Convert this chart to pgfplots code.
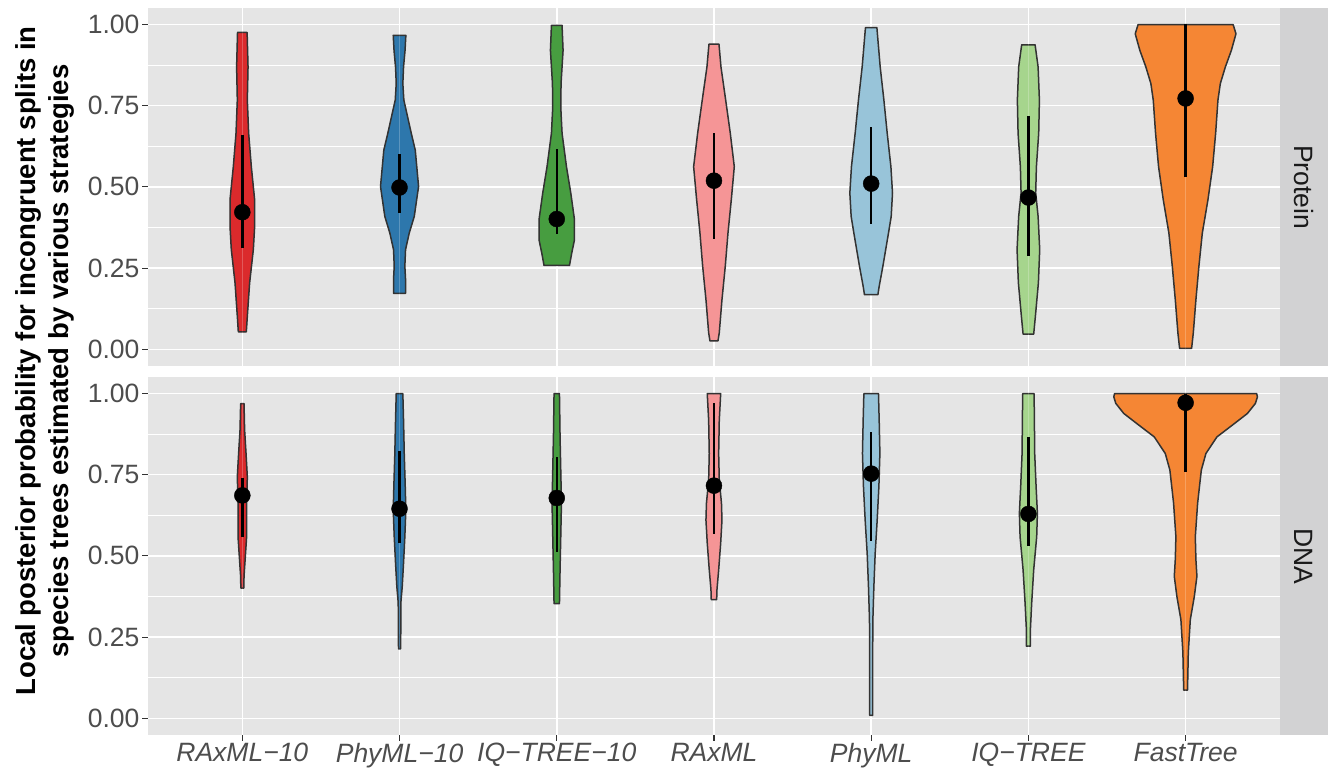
\documentclass[border=0pt]{standalone}
\usepackage{fontspec}
\setmainfont{Liberation Sans}
\usepackage{pgfplots}
\pgfplotsset{compat=1.18}
\usepackage{pgfplotstable}

\definecolor{panelbg}{HTML}{E5E5E5}
\definecolor{stripbg}{HTML}{D2D2D3}
\definecolor{outl}{HTML}{333333}
\definecolor{gray30}{HTML}{4D4D4D}
\definecolor{gray20}{HTML}{333333}
\definecolor{gray10}{HTML}{1A1A1A}
\definecolor{cA}{HTML}{DB2A2C}
\definecolor{cB}{HTML}{2D77AC}
\definecolor{cC}{HTML}{479D40}
\definecolor{cD}{HTML}{F59596}
\definecolor{cE}{HTML}{98C4D9}
\definecolor{cF}{HTML}{A6D58D}
\definecolor{cG}{HTML}{F58634}

% ---- Protein violins: y = value, w = half width (px, 157 px = 1 category) ----
\pgfplotstableread{
y w
0.054 0
0.054 4.0
0.102 5.0
0.205 7.3
0.307 11.0
0.378 12.3
0.460 12.3
0.562 9.0
0.665 6.3
0.767 5.0
0.869 5.7
0.975 4.8
0.975 0
}\pA
\pgfplotstableread{
y w
0.172 0
0.172 6.0
0.215 6.0
0.256 5.3
0.307 6.0
0.358 9.7
0.409 14.7
0.501 19.0
0.613 15.7
0.665 11.7
0.767 4.3
0.818 3.3
0.869 4.0
0.920 5.5
0.966 6.3
0.966 0
}\pB
\pgfplotstableread{
y w
0.258 0
0.258 12.7
0.297 15.0
0.337 17.7
0.399 17.7
0.481 14.0
0.562 9.7
0.665 5.3
0.746 4.0
0.818 4.3
0.920 6.3
0.997 5.3
0.997 0
}\pC
\pgfplotstableread{
y w
0.026 0
0.026 4.0
0.051 5.3
0.153 8.0
0.256 11.3
0.358 14.0
0.460 17.3
0.562 20.3
0.665 16.3
0.767 11.7
0.869 7.0
0.939 5.0
0.939 0
}\pD
\pgfplotstableread{
y w
0.168 0
0.168 6.7
0.194 8.0
0.256 11.7
0.358 17.3
0.409 20.0
0.481 21.3
0.562 19.7
0.665 16.0
0.767 12.7
0.869 9.0
0.990 5.7
0.990 0
}\pE
\pgfplotstableread{
y w
0.047 0
0.047 5.3
0.102 7.0
0.205 10.0
0.307 11.3
0.409 9.7
0.481 7.3
0.562 8.0
0.665 10.3
0.767 11.0
0.869 9.7
0.937 6.7
0.937 0
}\pF
\pgfplotstableread{
y w
0.003 0
0.003 6.0
0.051 7.7
0.153 10.3
0.256 13.3
0.358 16.7
0.460 22.3
0.562 27.0
0.665 30.0
0.767 32.3
0.818 34.7
0.869 39.7
0.920 45.7
0.971 50.3
0.999 47.5
0.999 0
}\pG

% ---- DNA violins ----
\pgfplotstableread{
y w
0.401 0
0.401 1.5
0.437 1.7
0.498 3.0
0.559 4.3
0.662 4.3
0.743 5.0
0.815 3.7
0.887 2.3
0.968 1.7
0.968 0
}\dA
\pgfplotstableread{
y w
0.214 0
0.214 1.0
0.252 1.2
0.355 1.3
0.406 2.7
0.478 4.0
0.559 5.3
0.641 6.3
0.713 5.7
0.815 4.7
0.917 4.0
0.999 3.3
0.999 0
}\dB
\pgfplotstableread{
y w
0.353 0
0.353 2.7
0.457 3.3
0.559 4.0
0.662 4.7
0.764 4.0
0.866 3.3
0.999 2.7
0.999 0
}\dC
\pgfplotstableread{
y w
0.365 0
0.365 2.7
0.396 3.0
0.457 4.7
0.539 6.7
0.610 8.0
0.662 7.5
0.733 5.3
0.815 4.7
0.917 5.3
0.999 6.7
0.999 0
}\dD
\pgfplotstableread{
y w
0.009 0
0.009 1.5
0.202 1.5
0.304 1.7
0.406 2.7
0.508 4.0
0.610 6.0
0.713 7.7
0.815 8.7
0.917 8.0
0.999 7.3
0.999 0
}\dE
\pgfplotstableread{
y w
0.222 0
0.222 2.0
0.273 2.0
0.355 3.3
0.457 5.3
0.559 8.3
0.631 9.0
0.713 7.7
0.815 6.3
0.917 6.0
0.999 5.7
0.999 0
}\dF
\pgfplotstableread{
y w
0.087 0
0.087 2.0
0.099 2.0
0.202 2.7
0.304 4.7
0.375 8.7
0.437 11.3
0.488 10.3
0.559 9.7
0.662 12.0
0.764 15.7
0.815 20.3
0.866 31.3
0.907 48.7
0.938 61.7
0.969 69.7
0.989 71.7
0.999 71.0
0.999 0
}\dG

% ---- summaries: point and range ----
\pgfplotstableread{
x y lo hi
1 0.422 0.312 0.660
2 0.498 0.419 0.601
3 0.401 0.355 0.615
4 0.519 0.340 0.667
5 0.510 0.385 0.685
6 0.467 0.287 0.719
7 0.772 0.529 1.000
}\sumP
\pgfplotstableread{
x y lo hi
1 0.686 0.559 0.738
2 0.645 0.539 0.822
3 0.678 0.512 0.805
4 0.716 0.566 0.970
5 0.753 0.547 0.880
6 0.629 0.529 0.866
7 0.971 0.757 0.999
}\sumD

\newcommand{\violin}[3]{%
  \addplot[fill=#3, draw=#3, line width=0.5pt] table[x expr=#2+\thisrow{w}/157, y=y] {#1};
  \addplot[fill=#3, draw=#3, line width=0.5pt] table[x expr=#2-\thisrow{w}/157, y=y] {#1};
  \addplot[draw=outl, line width=1.5pt, line join=round] table[x expr=#2+\thisrow{w}/157, y=y] {#1};
  \addplot[draw=outl, line width=1.5pt, line join=round] table[x expr=#2-\thisrow{w}/157, y=y] {#1};
}
\newcommand{\summary}[1]{%
  \addplot[only marks, mark=*, mark size=8pt, black,
    error bars/.cd, y dir=both, y explicit, error mark=none,
    error bar style={line width=2.4pt, black}]
    table[x=x, y=y, y error plus expr=\thisrow{hi}-\thisrow{y},
          y error minus expr=\thisrow{y}-\thisrow{lo}] {#1};
}

\pgfplotsset{panel/.style={
  scale only axis, width=1132pt, height=357.5pt,
  xmin=0.4, xmax=7.6, ymin=-0.05, ymax=1.05,
  axis background/.style={fill=panelbg},
  axis line style={draw=none},
  grid=both,
  major grid style={white, line width=1.6pt},
  minor grid style={white, line width=0.8pt},
  xtick={1,2,3,4,5,6,7}, minor xtick={},
  ytick={0,0.25,0.5,0.75,1}, minor ytick={0.125,0.375,0.625,0.875},
  yticklabels={0.00,0.25,0.50,0.75,1.00},
  tick align=outside, tick pos=left,
  major tick length=6pt, minor tick length=0pt,
  tick style={draw=gray20, line width=1.1pt},
  yticklabel style={font=\fontsize{26.5}{26.5}\selectfont, text=gray30, xshift=1pt},
  xticklabel style={font=\itshape\fontsize{26.5}{26.5}\selectfont, text=gray30, yshift=1pt},
}}

\begin{document}
\begin{tikzpicture}
\path[use as bounding box] (0,0) rectangle (1328pt,771pt);

\begin{axis}[panel, at={(148pt,405.4pt)}, anchor=south west,
  xticklabels={}, xtick style={draw=none}]
  \violin{\pA}{1}{cA}
  \violin{\pB}{2}{cB}
  \violin{\pC}{3}{cC}
  \violin{\pD}{4}{cD}
  \violin{\pE}{5}{cE}
  \violin{\pF}{6}{cF}
  \violin{\pG}{7}{cG}
  \summary{\sumP}
\end{axis}

\begin{axis}[panel, at={(148pt,36.4pt)}, anchor=south west,
  xticklabels={RAxML−10,PhyML−10,IQ−TREE−10,RAxML,PhyML,IQ−TREE,FastTree}]
  \violin{\dA}{1}{cA}
  \violin{\dB}{2}{cB}
  \violin{\dC}{3}{cC}
  \violin{\dD}{4}{cD}
  \violin{\dE}{5}{cE}
  \violin{\dF}{6}{cF}
  \violin{\dG}{7}{cG}
  \summary{\sumD}
\end{axis}

\fill[stripbg] (1280pt,405.4pt) rectangle (1328pt,762.9pt);
\fill[stripbg] (1280pt,36.4pt) rectangle (1328pt,393.9pt);
\node[rotate=-90, text=gray10, font=\fontsize{26.5}{26.5}\selectfont] at (1304pt,584pt) {Protein};
\node[rotate=-90, text=gray10, font=\fontsize{26.5}{26.5}\selectfont] at (1304pt,215pt) {DNA};

\node[rotate=90, align=center, text=black, font=\bfseries\fontsize{27.5}{33}\selectfont]
  at (45pt,410pt) {Local posterior probability for incongruent splits in\\species trees estimated by various strategies};
\end{tikzpicture}
\end{document}
